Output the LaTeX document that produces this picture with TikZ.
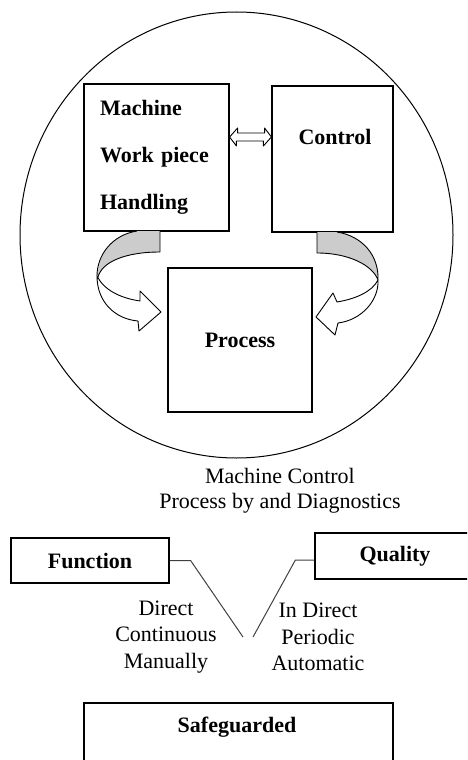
\documentclass[tikz,border=0pt]{standalone}
\usepackage{fontspec}
\setmainfont{Liberation Serif}
\usepackage{tikz}
\definecolor{bandgray}{gray}{0.80}
\definecolor{linkgray}{gray}{0.25}

\begin{document}
\begin{tikzpicture}[x=1pt, y=-1pt,
		box/.style={draw, line width=1.2pt, inner sep=0pt},
		bold/.style={font=\fontsize{22}{26}\selectfont\bfseries},
		plain/.style={font=\fontsize{22}{26.5}\selectfont, align=center},
		band/.style={draw, line width=0.9pt, line join=round},
		link/.style={draw=linkgray, line width=1pt}]
	\useasboundingbox (0,0) rectangle (467,760);
	\clip (0,0) rectangle (467,760);

	% Outer circle
	\draw[line width=1pt] (236.5,235) ellipse [x radius=216.5, y radius=223];

	% Machine, control and process blocks
	\node[box, minimum width=145pt, minimum height=147pt, text width=113pt, inner xsep=16pt, align=left, bold] (mach) at (156.5,157.5) {Machine\\[21pt]Work piece\\[21pt]Handling};
	\node[box, minimum width=121pt, minimum height=146pt] (ctrl) at (332.5,159) {};
	\node[bold] (ctrltxt) at (335,137) {Control};
	\node[box, minimum width=144pt, minimum height=144pt, bold] (proc) at (240,340) {Process};

	% Hollow double arrow between machine and control
	\coordinate (dl) at (mach.east |- ctrltxt);
	\coordinate (dr) at (ctrl.west |- ctrltxt);
	\draw[band, fill=white] (dl) -- ++(8,-9) -- ++(0,5) -- ++(27,0) -- ++(0,-5) -- (dr) -- ++(-8,9) -- ++(0,-5) -- ++(-27,0) -- ++(0,5) -- cycle;

	% Left curved arrow
	\fill[bandgray] (137,231) -- (160,231) -- (160,252) .. controls (125,252) and (102,262) .. (98,277) .. controls (97,255) and (112,235) .. (137,231);
	\draw[band] (160,231) -- (160,252) .. controls (125,252) and (102,262) .. (98,277);
	\draw[band] (137,231) .. controls (112,235) and (97,255) .. (97,276);
	\draw[band, fill=white] (97,276) .. controls (104,290) and (120,298) .. (140,301) -- (140,291) -- (161,312) -- (139,331) -- (138,321) .. controls (115,319) and (97,302) .. (97,276) -- cycle;

	% Right curved arrow
	\fill[bandgray] (317,232) -- (337,232) .. controls (362,236) and (379,255) .. (378,280) .. controls (373,266) and (350,253) .. (317,253) -- cycle;
	\draw[band] (337,232) .. controls (362,236) and (379,255) .. (378,280) .. controls (373,266) and (350,253) .. (317,253) -- (317,232);
	\draw[band, fill=white] (378,280) .. controls (372,292) and (355,299) .. (337,302) -- (333,293) -- (316,317) -- (335,335) -- (338,323) .. controls (362,320) and (379,300) .. (378,280) -- cycle;

	\node[plain, font=\fontsize{22}{25}\selectfont] (mcd) at (280,490.5) {Machine Control\\Process by and Diagnostics};

	% Function and quality
	\node[box, minimum width=158pt, minimum height=45pt, bold] (fun) at (90,560.5) {Function};
	\node[box, minimum width=160pt, minimum height=46pt, bold] (qual) at (395,556) {Quality};
	\coordinate (vl) at (243,637);
	\coordinate (vr) at (253,637);
	\draw[link] (fun.east) -- ++(21,0) -- (vl);
	\draw[link] ([yshift=-4pt]qual.west) -- ++(-19,0) -- (vr);

	\node[plain] (fleft) at (166,637) {Direct\\Continuous\\Manually};
	\node[plain] (fright) at (318,637) {In Direct\\Periodic\\Automatic};

	% Safeguarded
	\node[box, minimum width=309pt, minimum height=90pt] (safe) at (238.5,748) {};
	\node[bold] (safetxt) at (237,727) {Safeguarded};
\end{tikzpicture}
\end{document}
